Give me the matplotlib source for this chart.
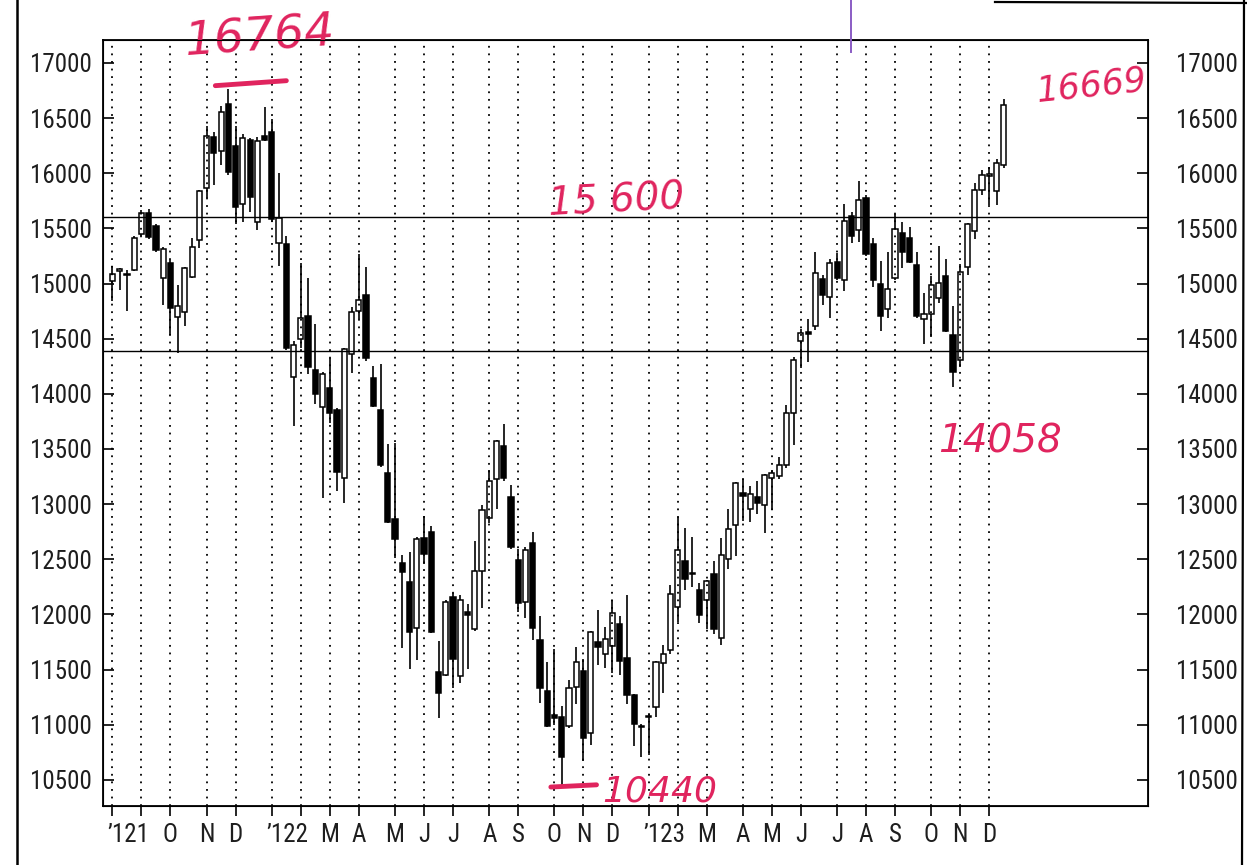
import matplotlib
matplotlib.use("Agg")
import matplotlib.pyplot as plt
import numpy as np
import pandas as pd
from matplotlib.lines import Line2D
from matplotlib import font_manager

# Weekly candles (week ending Friday), Nasdaq-100 style index
first_week = "2021-08-06"
opens = [15023, 15118, 15085, 15127, 15445, 15642, 15523, 15049, 15185, 14699,
         14746, 15063, 15395, 15863, 16325, 16204, 16627, 16246, 15720, 16299,
         15554, 16338, 16376, 15366, 15361, 14149, 14496, 14703, 14219, 13883,
         14056, 13856, 13240, 14362, 14754, 14894, 14140, 13855, 13278, 12864,
         12462, 12295, 11875, 12689, 12751, 11481, 11453, 12161, 11440, 12020,
         11866, 12393, 12876, 13224, 13526, 13061, 12490, 12115, 12649, 11772,
         11307, 11088, 11068, 10989, 11342, 11485, 10924, 11746, 11640, 11710,
         11914, 11602, 11272, 10985, 11070, 11162, 11561, 11676, 12069, 12486,
         12370, 12224, 12129, 12362, 11782, 12500, 12808, 13099, 12956, 13062,
         12989, 13236, 13256, 13354, 13822, 14477, 14563, 14618, 15041, 14874,
         15194, 15036, 15609, 15482, 15778, 15357, 14998, 14767, 15046, 15460,
         15410, 15170, 14675, 14722, 14873, 15064, 14536, 14305, 15150, 15474,
         15845, 15976, 15839, 16078]
highs = [15159, 15145, 15126, 15430, 15671, 15680, 15540, 15329, 15210, 14985,
         15150, 15409, 15850, 16430, 16377, 16610, 16764, 16427, 16352, 16323,
         16325, 16597, 16493, 16004, 15427, 14480, 15188, 15046, 14635, 14200,
         14327, 13876, 14420, 14783, 15266, 15147, 14254, 14270, 13543, 13557,
         12543, 12566, 12700, 12894, 12805, 11758, 12130, 12191, 12178, 12090,
         12662, 12995, 13313, 13580, 13722, 13175, 12595, 12612, 12748, 11983,
         11569, 11684, 11174, 11401, 11703, 11599, 11850, 12038, 11889, 12131,
         11984, 12180, 11280, 11008, 11099, 11575, 11720, 12263, 12882, 12787,
         12704, 12284, 12310, 12482, 12694, 12957, 13200, 13225, 13167, 13213,
         13275, 13307, 13428, 13902, 14334, 14592, 14677, 15286, 15077, 15220,
         15275, 15720, 15648, 15933, 15802, 15412, 15208, 15285, 15633, 15559,
         15515, 15282, 14916, 15068, 15340, 15220, 14795, 15179, 15550, 15913,
         16030, 16060, 16130, 16669]
lows = [14840, 14938, 14750, 15110, 15430, 15400, 15282, 14802, 14532, 14368,
        14619, 15050, 15320, 15773, 15895, 16077, 15982, 15538, 15554, 15646,
        15488, 16296, 15560, 15155, 14400, 13712, 14420, 14182, 13904, 13056,
        13734, 13118, 13014, 14190, 14682, 14298, 13878, 13337, 12830, 12512,
        11700, 11501, 11584, 12457, 11830, 11060, 11438, 11334, 11380, 11503,
        11850, 12061, 12831, 12953, 13210, 12590, 12023, 11965, 11771, 11200,
        10980, 10998, 10440, 10970, 11191, 10667, 10818, 11542, 11514, 11469,
        11455, 11187, 10811, 10707, 10723, 11072, 11283, 11640, 11933, 12221,
        12253, 11923, 11864, 11820, 11722, 12416, 12531, 12849, 12835, 12912,
        12742, 12945, 13230, 13330, 13536, 14230, 14291, 14579, 14806, 14687,
        15030, 14931, 15369, 15379, 15251, 14973, 14571, 14683, 15030, 15137,
        15184, 14689, 14449, 14511, 14828, 14560, 14058, 14245, 15075, 15407,
        15800, 15711, 15712, 16050]
closes = [15084, 15130, 15078, 15413, 15635, 15422, 15306, 15313, 14779, 14799,
          15137, 15334, 15838, 16339, 16181, 16553, 16009, 15695, 16322, 15788,
          16289, 16302, 15581, 15597, 14418, 14441, 14683, 14242, 13997, 14178,
          13830, 13290, 14408, 14741, 14851, 14322, 13893, 13353, 12842, 12684,
          12384, 11844, 12682, 12547, 11842, 11286, 12114, 11599, 12133, 11995,
          12397, 12950, 13207, 13570, 13240, 12610, 12099, 12588, 11876, 11336,
          10991, 11058, 10707, 11332, 11568, 10884, 11842, 11701, 11778, 12011,
          11582, 11271, 11007, 10975, 11080, 11568, 11645, 12188, 12581, 12317,
          12378, 11998, 12300, 11866, 12535, 12777, 13194, 13075, 13091, 13011,
          13266, 13282, 13358, 13824, 14304, 14552, 14539, 15091, 14896, 15184,
          15050, 15569, 15429, 15753, 15272, 15032, 14703, 14954, 15497, 15288,
          15199, 14710, 14726, 14983, 15003, 14574, 14199, 15103, 15541, 15844,
          15986, 15997, 16089, 16620]

# Month labels from Aug 2021 to Dec 2023 (year marks replace January)
month_labels = ["’121", "", "O", "N", "D",
                "’122", "", "M", "A", "M", "J", "J", "A", "S", "O", "N", "D",
                "’123", "", "M", "A", "M", "J", "J", "A", "S", "O", "N", "D"]
y_ticks = list(range(10500, 17001, 500))
support_levels = [15600, 14390]

opens, highs, lows, closes = map(np.array, (opens, highs, lows, closes))
dates = pd.date_range(first_week, periods=len(opens), freq="W-FRI")
xs = np.arange(len(dates))
month_key = dates.year * 12 + dates.month
month_starts = xs[np.r_[True, month_key[1:] != month_key[:-1]]]


def narrow_font():
    """Pick a narrow sans face for the axis numbers, else a light Roboto."""
    entries = font_manager.fontManager.ttflist
    preferred = ["Liberation Sans Narrow", "Roboto Condensed",
                 "DejaVu Sans Condensed", "Open Sans Condensed"]
    for name in preferred:
        for f in entries:
            if f.name == name and f.style == "normal" and f.weight in (400, "normal"):
                return font_manager.FontProperties(fname=f.fname, size=18)
    for f in entries:
        if f.stretch in ("condensed", "semi-condensed") and f.style == "normal" \
                and f.weight in (400, "normal") and "Sans" in f.name:
            return font_manager.FontProperties(fname=f.fname, size=18)
    return font_manager.FontProperties(family="Roboto", weight="light", size=16)


tick_fp = narrow_font()
ink = "#1e1e1e"
hand_color = "#e0245e"

fig = plt.figure(figsize=(12.47, 8.65), dpi=100)
fig.patch.set_facecolor("white")
W, H = 1247, 865
ax = fig.add_axes([103 / W, 1 - 806 / H, (1148 - 103) / W, (806 - 40) / H])
ax.set_xlim(-1.3, 142.9)
ax.set_ylim(10263, 17208)

# candles
ax.vlines(xs, lows, highs, color="black", linewidth=1.2, zorder=2)
rising = closes >= opens
body_bottom = np.minimum(opens, closes)
body_height = np.maximum(np.abs(closes - opens), 6)
ax.bar(xs, body_height, bottom=body_bottom, width=0.72,
       color=np.where(rising, "white", "black"), edgecolor="black",
       linewidth=1.1, zorder=3)

# monthly dotted grid
for m in month_starts:
    ax.axvline(m, color="black", linestyle=(0, (1, 3.2)), linewidth=1.3, zorder=4)

# hand-drawn support/resistance lines
for lvl in support_levels:
    ax.axhline(lvl, color="black", linewidth=1.0, zorder=4)

# axes styling
for s in ax.spines.values():
    s.set_linewidth(1.3)
ax.set_yticks(y_ticks)
ax.set_yticklabels([str(v) for v in y_ticks], fontproperties=tick_fp, color=ink)
ax.tick_params(axis="y", direction="in", length=8, width=1.2, pad=8)
ax2 = ax.twinx()
ax2.set_ylim(ax.get_ylim())
ax2.set_yticks(y_ticks)
ax2.set_yticklabels([str(v) for v in y_ticks], fontproperties=tick_fp, color=ink)
ax2.tick_params(axis="y", direction="in", length=8, width=1.2, pad=20)

ax.set_xticks(month_starts)
ax.set_xticklabels([])
ax.tick_params(axis="x", direction="out", length=7, width=1.2)
for m, lab in zip(month_starts, month_labels):
    if not lab:
        continue
    year_mark = lab.startswith("’")
    ax.text(m - 0.7 if year_mark else m, -0.022, lab,
            transform=ax.get_xaxis_transform(),
            ha="left" if year_mark else "center", va="top",
            fontproperties=tick_fp, color=ink)

# handwritten marks
peak_i = int(np.argmax(highs))
low_i = int(np.argmin(lows))
late_low = int(lows[110:].argmin()) + 110
ax.text(peak_i + 4.3, 17225, f"{highs[peak_i]}", color=hand_color, fontsize=34,
        style="italic", ha="center", va="center", rotation=4, zorder=6,
        clip_on=False)
ax.plot([peak_i - 1.8, peak_i + 8.0], [highs[peak_i] + 30, highs[peak_i] + 75],
        color=hand_color, linewidth=3.5, solid_capstyle="round", zorder=6)
ax.text(69.5, support_levels[0] + 150, "15 600", color=hand_color, fontsize=28,
        style="italic", ha="center", va="center", rotation=3, zorder=6)
ax.text(late_low + 19, 16790, f"{highs[-1]}", color=hand_color, fontsize=25,
        style="italic", ha="center", va="center", rotation=6, zorder=6)
ax.text(late_low + 6.5, 13570, f"{lows[late_low]}", color=hand_color, fontsize=28,
        style="italic", ha="center", va="center", zorder=6)
ax.plot([low_i - 1.5, low_i + 4.8], [lows[low_i] - 5, lows[low_i] + 15],
        color=hand_color, linewidth=3.5, solid_capstyle="round", zorder=6,
        clip_on=False)
ax.text(low_i + 13.5, lows[low_i] - 50, f"{lows[low_i]}", color=hand_color,
        fontsize=26, style="italic", ha="center", va="center", zorder=6,
        clip_on=False)

# page edges and pen mark
fig.add_artist(Line2D([17 / W, 17 / W], [0, 1], color="black", linewidth=1.8))
fig.add_artist(Line2D([1244 / W, 1242 / W], [1, 0], color="black", linewidth=1.6))
fig.add_artist(Line2D([995 / W, 1], [1 - 2 / H, 1 - 3 / H], color="black",
                      linewidth=1.6))
fig.add_artist(Line2D([851 / W, 851 / W], [1, 1 - 52 / H], color="#8a5cc4",
                      linewidth=1.4))

fig.savefig("out.png", dpi=100, facecolor="white")
